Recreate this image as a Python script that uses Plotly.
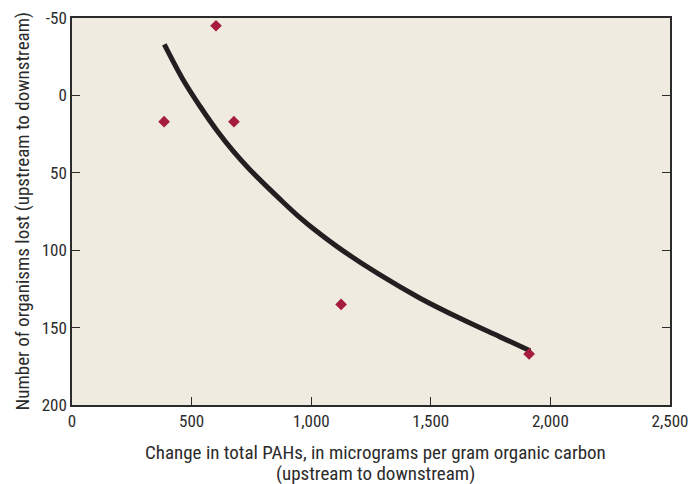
import plotly.graph_objects as go

# Observed data points
pah_change = [385, 602, 677, 1125, 1911]
organisms_lost = [17, -45, 17, 135, 167]

# Fitted curve
curve_x = [386, 465, 535, 605, 674, 744, 883, 953, 1016, 1120, 1288, 1455, 1622, 1789, 1915]
curve_y = [-33, -10, 7, 22.5, 36, 48, 69, 79, 87, 99, 116, 131, 144, 156, 165]

x_ticks = [0, 500, 1000, 1500, 2000, 2500]
x_tick_labels = ["0", "500", "1,000", "1,500", "2,000", "2,500"]
y_ticks = [-50, 0, 50, 100, 150, 200]
y_tick_labels = ["-50", "0", "50", "100", "150", "200"]

x_title_lines = ["Change in total PAHs, in micrograms per gram organic carbon",
                 "(upstream to downstream)"]
y_title = "Number of organisms lost (upstream to downstream)"

FONT = "Liberation Sans Narrow, Arial Narrow, Roboto Condensed, sans-serif"
INK = "#2b2b2b"

fig = go.Figure()
fig.add_trace(go.Scatter(
    x=curve_x, y=curve_y, mode="lines",
    line=dict(color="#231f20", width=5, shape="spline", smoothing=1.0),
    hoverinfo="skip", showlegend=False,
))
fig.add_trace(go.Scatter(
    x=pah_change, y=organisms_lost, mode="markers",
    marker=dict(symbol="diamond", size=9, color="#a51c3d"),
    showlegend=False,
))

fig.update_layout(
    width=689, height=476,
    margin=dict(l=64, r=27, t=10, b=79),
    paper_bgcolor="white",
    plot_bgcolor="#efebe1",
    font=dict(family=FONT, size=17, color=INK),
    xaxis=dict(
        range=[0, 2500], tickvals=x_ticks, ticktext=x_tick_labels,
        ticks="inside", ticklen=8, tickcolor=INK, tickwidth=1,
        showline=True, linecolor=INK, linewidth=1.5, mirror=True,
        showgrid=False, zeroline=False, automargin=False,
        ticklabeloverflow="allow",
        tickfont=dict(size=17),
    ),
    yaxis=dict(
        range=[200, -50], tickvals=y_ticks, ticktext=y_tick_labels,
        ticks="inside", ticklen=8, tickcolor=INK, tickwidth=1,
        showline=True, linecolor=INK, linewidth=1.5, mirror="ticks",
        showgrid=False, zeroline=False, automargin=False,
        ticklabeloverflow="allow",
        tickfont=dict(size=17),
    ),
)

fig.add_annotation(text=x_title_lines[0], xref="paper", yref="paper",
                   x=0.5, y=0, xanchor="center", yanchor="middle",
                   xshift=4, yshift=-47, showarrow=False, font=dict(size=19))
fig.add_annotation(text=x_title_lines[1], xref="paper", yref="paper",
                   x=0.5, y=0, xanchor="center", yanchor="middle",
                   xshift=4, yshift=-68, showarrow=False, font=dict(size=19))
fig.add_annotation(text=y_title, xref="paper", yref="paper",
                   x=0, y=0.5, xanchor="center", yanchor="middle",
                   xshift=-50, textangle=-90, showarrow=False, font=dict(size=19))

fig.write_html("out.html")
